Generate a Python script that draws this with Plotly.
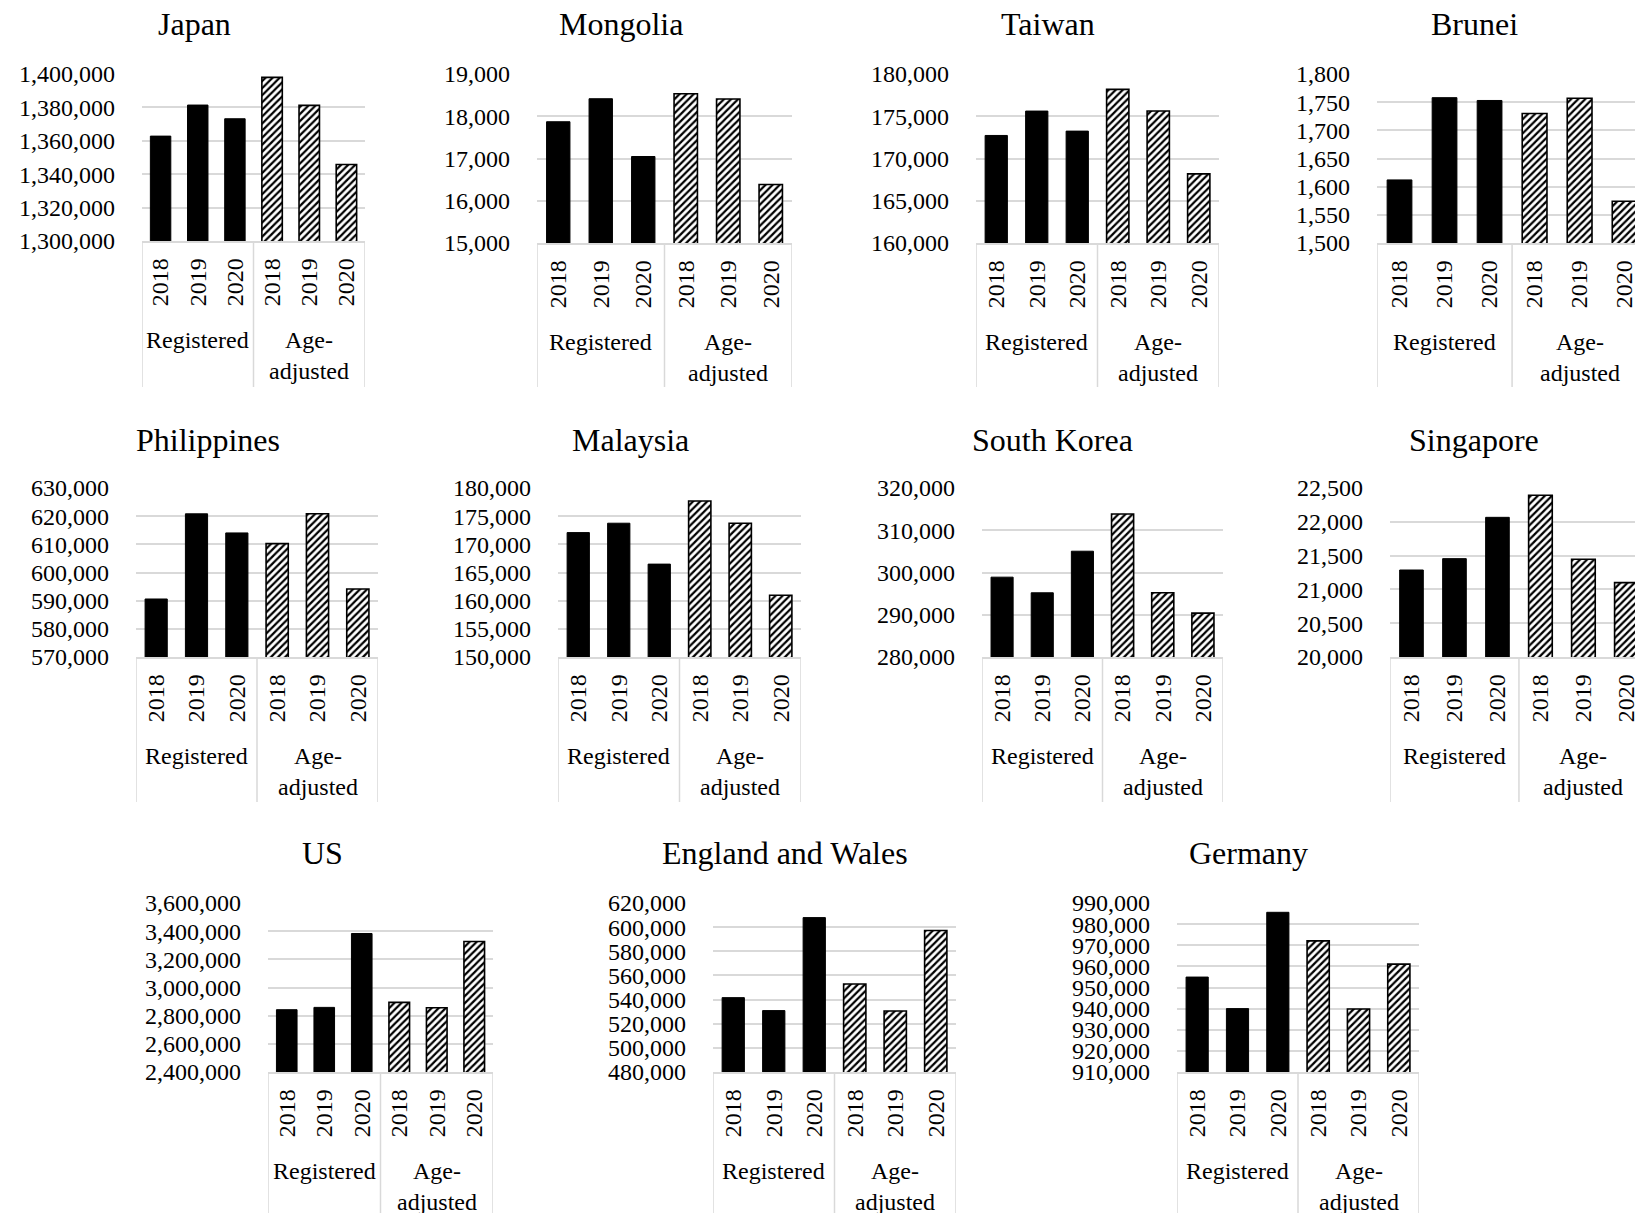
import plotly.graph_objects as go

W, H = 1635, 1213
FONT = "Liberation Serif"
GRID = "#d9d9d9"

GROUPS = ["Registered", "Age-<br>adjusted"]
YEARS = ["2018", "2019", "2020"]

TITLES = ["Japan", "Mongolia", "Taiwan", "Brunei",
          "Philippines", "Malaysia", "South Korea", "Singapore",
          "US", "England and Wales", "Germany"]

# Registered deaths 2018-2020 and age-adjusted (expected) deaths 2018-2020
JAPAN_REG = [1362800, 1381400, 1373200]
JAPAN_AGE = [1398000, 1381200, 1345800]
MONGOLIA_REG = [17870, 18415, 17047]
MONGOLIA_AGE = [18534, 18407, 16383]
TAIWAN_REG = [172727, 175613, 173241]
TAIWAN_AGE = [178182, 175613, 168182]
BRUNEI_REG = [1612, 1758, 1753]
BRUNEI_AGE = [1730, 1757, 1574]
PHILIPPINES_REG = [590595, 620833, 614048]
PHILIPPINES_AGE = [610238, 620833, 594167]
MALAYSIA_REG = [172083, 173750, 166488]
MALAYSIA_AGE = [177679, 173750, 160952]
SKOREA_REG = [298898, 295197, 305039]
SKOREA_AGE = [313858, 295197, 290394]
SINGAPORE_REG = [21287, 21455, 22066]
SINGAPORE_AGE = [22392, 21445, 21100]
US_REG = [2842353, 2858824, 3383529]
US_AGE = [2894118, 2856471, 3327059]
ENGWALES_REG = [541596, 530867, 607895]
ENGWALES_AGE = [552875, 530592, 597166]
GERMANY_REG = [954937, 940000, 985597]
GERMANY_AGE = [972075, 939843, 961069]

REG = [JAPAN_REG, MONGOLIA_REG, TAIWAN_REG, BRUNEI_REG, PHILIPPINES_REG, MALAYSIA_REG,
       SKOREA_REG, SINGAPORE_REG, US_REG, ENGWALES_REG, GERMANY_REG]
AGE = [JAPAN_AGE, MONGOLIA_AGE, TAIWAN_AGE, BRUNEI_AGE, PHILIPPINES_AGE, MALAYSIA_AGE,
       SKOREA_AGE, SINGAPORE_AGE, US_AGE, ENGWALES_AGE, GERMANY_AGE]

Y_MIN = [1300000, 15000, 160000, 1500, 570000, 150000, 280000, 20000, 2400000, 480000, 910000]
Y_MAX = [1400000, 19000, 180000, 1800, 630000, 180000, 320000, 22500, 3600000, 620000, 990000]
Y_STEP = [20000, 1000, 5000, 50, 10000, 5000, 10000, 500, 200000, 20000, 10000]

# layout geometry in pixels: plot left, plot right, top gridline, axis line, title centre x, row
GEOM = [
    (142, 365, 74, 241, 194, 0),
    (537, 792, 74, 243, 621, 0),
    (976, 1219, 74, 243, 1048, 0),
    (1377, 1635, 74, 243, 1474, 0),
    (136, 378, 488, 657, 208, 1),
    (558, 801, 488, 657, 630, 1),
    (982, 1223, 488, 657, 1052, 1),
    (1390, 1635, 488, 657, 1474, 1),
    (268, 493, 903, 1072, 322, 2),
    (713, 956, 903, 1072, 785, 2),
    (1177, 1419, 903, 1072, 1248, 2),
]
X_END = [5.5, 5.5, 5.5, 5.23, 5.5, 5.5, 5.5, 5.2, 5.5, 5.5, 5.5]
TITLE_Y = [24, 440, 853]
LABEL_BOTTOM = [387, 802, 1213]

cats_reg = ["R " + y for y in YEARS]
cats_age = ["A " + y for y in YEARS]
cats = cats_reg + cats_age

fig = go.Figure()
layout = {}
annotations = []
shapes = []

def px_x(v):
    return v / W

def px_y(v):
    return 1 - v / H

for i, title in enumerate(TITLES):
    n = i + 1
    xa = "x" if n == 1 else f"x{n}"
    ya = "y" if n == 1 else f"y{n}"
    x0, x1, ytop, ybot, tx, row = GEOM[i]

    fig.add_trace(go.Bar(
        x=cats_reg, y=REG[i], xaxis=xa, yaxis=ya,
        marker=dict(color="black", line=dict(color="black", width=1)),
        showlegend=False, hoverinfo="y"))
    fig.add_trace(go.Bar(
        x=cats_age, y=AGE[i], xaxis=xa, yaxis=ya,
        marker=dict(color="white",
                    line=dict(color="black", width=1.6),
                    pattern=dict(shape="/", fgcolor="black", bgcolor="white",
                                 size=5, solidity=0.45, fillmode="replace")),
        showlegend=False, hoverinfo="y"))

    xkey = "xaxis" if n == 1 else f"xaxis{n}"
    ykey = "yaxis" if n == 1 else f"yaxis{n}"
    layout[xkey] = dict(
        domain=[px_x(x0), px_x(x1)], anchor=ya, type="category",
        categoryorder="array", categoryarray=cats,
        range=[-0.5, X_END[i]], automargin=False,
        tickmode="array", tickvals=cats, ticktext=YEARS + YEARS,
        tickangle=-90, ticks="", ticklabelstandoff=6,
        tickfont=dict(family=FONT, size=24, color="black"),
        showline=True, linecolor=GRID, linewidth=1.5,
        showgrid=False, zeroline=False, fixedrange=True)
    layout[ykey] = dict(
        domain=[px_y(ybot), px_y(ytop)], anchor=xa, automargin=False,
        range=[Y_MIN[i], Y_MAX[i]], dtick=Y_STEP[i], tick0=Y_MIN[i],
        tickformat=",", ticks="", ticklabelstandoff=26,
        tickfont=dict(family=FONT, size=24, color="black"),
        showgrid=True, gridcolor=GRID, gridwidth=1.5,
        showline=False, zeroline=False, fixedrange=True)

    # chart title
    annotations.append(dict(
        text=title, xref="paper", yref="paper", x=px_x(tx), y=px_y(TITLE_Y[row]),
        xanchor="center", yanchor="middle", showarrow=False,
        font=dict(family=FONT, size=32, color="black")))

    # group labels below the year labels
    for g, centre in zip(GROUPS, [cats_reg[1], cats_age[1]]):
        annotations.append(dict(
            text=g, xref=xa, yref="paper", x=centre, y=px_y(ybot + 84),
            xanchor="center", yanchor="top", showarrow=False, align="center",
            font=dict(family=FONT, size=24, color="black")))

    # vertical dividers of the two-level category axis
    for pos in [-0.5, 2.5, 5.5]:
        if pos > X_END[i]:
            continue
        shapes.append(dict(
            type="line", xref=xa, yref="paper", x0=pos, x1=pos,
            y0=px_y(ybot), y1=px_y(LABEL_BOTTOM[row]),
            line=dict(color=GRID, width=1.5), layer="below"))

fig.update_layout(
    width=W, height=H, autosize=False,
    margin=dict(l=0, r=0, t=0, b=0, pad=0, autoexpand=False),
    plot_bgcolor="white", paper_bgcolor="white",
    barmode="overlay", bargap=0.45, showlegend=False,
    annotations=annotations, shapes=shapes,
    font=dict(family=FONT, color="black"),
    **layout)

fig.write_html("out.html",
               config={"displayModeBar": False},
               post_script="document.body.style.margin='0';document.body.style.overflow='hidden';")
